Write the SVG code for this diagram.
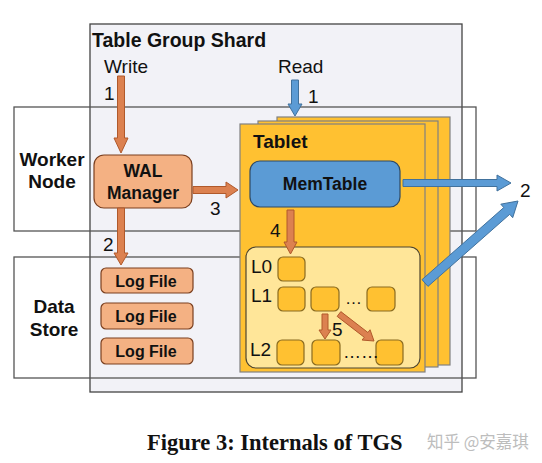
<svg xmlns="http://www.w3.org/2000/svg" width="542" height="463" viewBox="0 0 542 463">
<style>
.t{font-family:"Liberation Sans",Arial,sans-serif;fill:#111}
.b{font-weight:bold}
.frame{fill:none;stroke:#555;stroke-width:1.3}
.card{fill:#ffc131;stroke:#808080;stroke-width:1.2}
.cell{fill:#ffc131;stroke:#8a6b20;stroke-width:1.2}
.og{fill:#f4b183;stroke:#7a3f1f;stroke-width:1.2}
.ao{fill:#dc8150;stroke:#b0592b;stroke-width:1}
.ab{fill:#5b9bd5;stroke:#41719c;stroke-width:1}
</style>
<rect width="542" height="463" fill="#fff"/>
<g id="shard">
<rect x="90" y="24" width="372" height="368" fill="#f2f2f7" stroke="#444" stroke-width="1.3"/>
<text class="t b" x="92" y="47" font-size="19.5">Table Group Shard</text>
<text class="t" x="104" y="73" font-size="19">Write</text>
<text class="t" x="278" y="73" font-size="19">Read</text>
</g>
<g id="worker-node">
<rect class="frame" x="14" y="107" width="462" height="124"/>
<text class="t b" x="52" y="166" font-size="19" text-anchor="middle">Worker</text>
<text class="t b" x="52" y="188" font-size="19" text-anchor="middle">Node</text>
</g>
<g id="data-store">
<rect class="frame" x="14" y="257" width="462" height="121"/>
<text class="t b" x="54" y="313" font-size="19" text-anchor="middle">Data</text>
<text class="t b" x="54" y="336" font-size="19" text-anchor="middle">Store</text>
</g>
<g id="wal-manager">
<rect class="og" x="94" y="155" width="98" height="53" rx="10"/>
<text class="t b" x="143" y="177" font-size="17.5" text-anchor="middle">WAL</text>
<text class="t b" x="143" y="199" font-size="17.5" text-anchor="middle">Manager</text>
</g>
<g id="log-files">
<rect class="og" x="101" y="268" width="92" height="25" rx="5"/>
<text class="t b" x="146" y="287" font-size="16" text-anchor="middle">Log File</text>
<rect class="og" x="101" y="303" width="92" height="26" rx="5"/>
<text class="t b" x="146" y="322" font-size="16" text-anchor="middle">Log File</text>
<rect class="og" x="101" y="338" width="92" height="26" rx="5"/>
<text class="t b" x="146" y="357" font-size="16" text-anchor="middle">Log File</text>
</g>
<g id="tablet">
<rect class="card" x="277" y="117" width="173" height="248"/>
<rect class="card" x="258" y="121" width="180" height="246"/>
<rect class="card" x="240" y="124" width="185" height="248"/>
<text class="t b" x="253" y="148" font-size="19">Tablet</text>
</g>
<g id="memtable">
<rect x="250" y="161" width="150" height="46" rx="10" fill="#5b9bd5" stroke="#2e4a66" stroke-width="1.2"/>
<text class="t b" x="325" y="190" font-size="17.5" text-anchor="middle">MemTable</text>
</g>
<g id="lsm">
<rect x="246" y="247" width="174" height="121" rx="10" fill="#ffe699" stroke="#4d4530" stroke-width="1.2"/>
<text class="t" x="251" y="273" font-size="19">L0</text>
<text class="t" x="251" y="302" font-size="19">L1</text>
<text class="t" x="250" y="356" font-size="19">L2</text>
<rect class="cell" x="278" y="257" width="27" height="24" rx="5"/>
<rect class="cell" x="278" y="287" width="27" height="24" rx="5"/>
<rect class="cell" x="311" y="287" width="28" height="24" rx="5"/>
<rect class="cell" x="367" y="287" width="28" height="24" rx="5"/>
<rect class="cell" x="277" y="340" width="27" height="25" rx="5"/>
<rect class="cell" x="312" y="340" width="28" height="25" rx="5"/>
<rect class="cell" x="376" y="340" width="27" height="25" rx="5"/>
<text class="t" x="345" y="304" font-size="17">…</text>
<text class="t" x="343" y="358" font-size="18">……</text>
</g>
<g id="connectors">
<polygon class="ao" points="117.5,76 124.5,76 124.5,138 128,138 121,153 114,138 117.5,138"/>
<polygon class="ao" points="117.5,208 124.5,208 124.5,253 128,253 121,265 114,253 117.5,253"/>
<polygon class="ao" points="193,186.5 226,186.5 226,182 238,190 226,198 226,193.5 193,193.5"/>
<polygon class="ab" points="291.5,80 298.5,80 298.5,104 302,104 295,116 288,104 291.5,104"/>
<polygon class="ab" points="403,179.5 497,179.5 497,175 511,183 497,191 497,186.5 403,186.5"/>
<polygon class="ab" points="422.03,279.63 503.78,207.55 500.8,204.17 518,201 512.7,217.67 509.72,214.3 427.97,286.38"/>
<polygon class="ao" points="287,210 294,210 294,242 297,242 290.5,254 284,242 287,242"/>
<polygon class="ao" points="322,314 328,314 328,330 331,330 325,339 319,330 322,330"/>
<polygon class="ao" points="340.83,311.62 367.91,332.51 370.05,329.74 374,341 362.11,340.04 364.25,337.27 337.17,316.38"/>
</g>
<g id="labels">
<text class="t" x="104" y="100" font-size="19">1</text>
<text class="t" x="308" y="103" font-size="19">1</text>
<text class="t" x="103" y="251" font-size="19">2</text>
<text class="t" x="210" y="215" font-size="19">3</text>
<text class="t" x="520" y="197" font-size="19">2</text>
<text class="t" x="270" y="237" font-size="19">4</text>
<text class="t" x="332" y="336" font-size="19">5</text>
</g>
<g id="caption">
<text x="147" y="450" font-family="'Liberation Serif','Times New Roman',serif" font-weight="bold" font-size="22.5" fill="#111">Figure 3: Internals of TGS</text>
<text x="427" y="448" font-family="'Noto Sans CJK SC',sans-serif" font-size="16.5" fill="#bdbdbd">知乎 @安嘉琪</text>
</g>
</svg>
